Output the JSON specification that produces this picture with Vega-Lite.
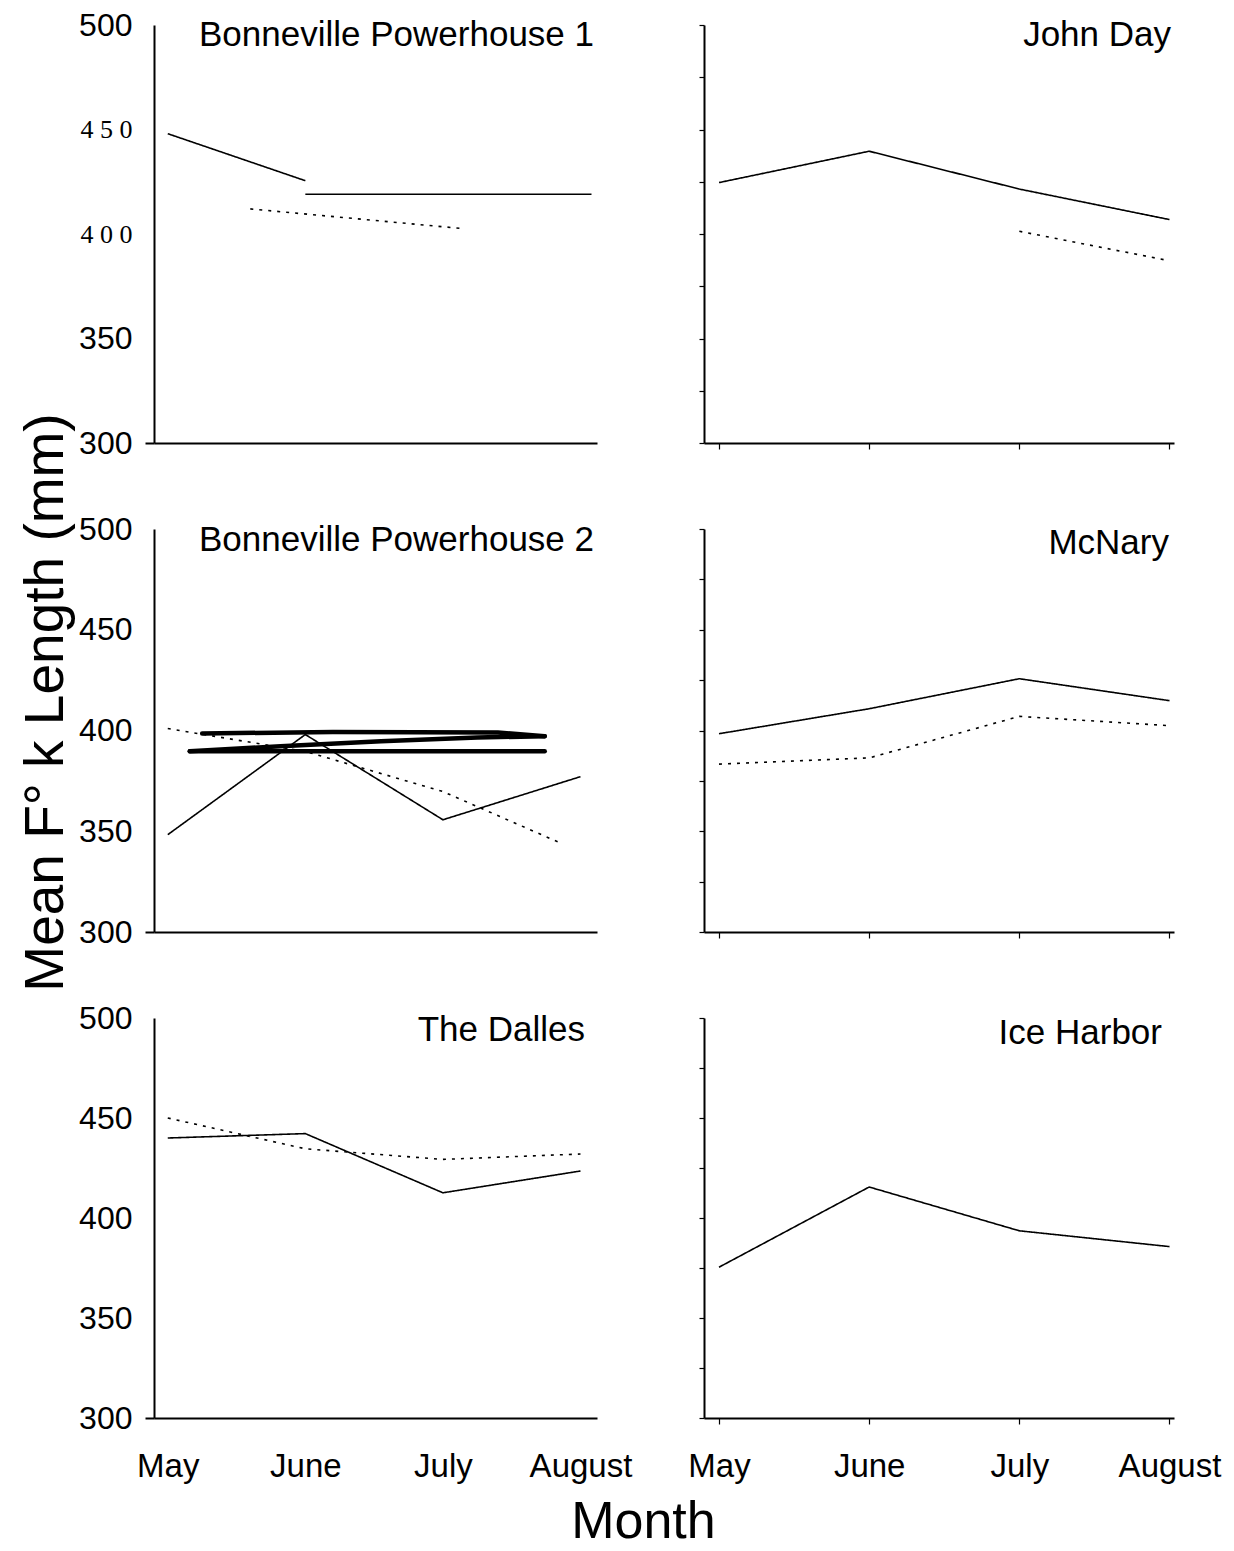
{
  "$schema": "https://vega.github.io/schema/vega-lite/v6.json",
  "background": "white",
  "padding": {"left": 17, "top": 9, "right": 4, "bottom": 4},
  "config": {
    "font": "Liberation Sans",
    "view": {"stroke": null},
    "axis": {"domainColor": "black", "domainWidth": 2, "tickColor": "black", "labelColor": "black", "labelFont": "Liberation Sans", "labelFontSize": 32, "grid": false, "titleFont": "Liberation Sans", "titleColor": "black", "titleFontWeight": "normal"},
    "title": {"font": "Liberation Sans", "fontWeight": "normal", "color": "black"},
    "text": {"font": "Liberation Sans", "fontSize": 35, "color": "black", "align": "right", "baseline": "top"}
  },
  "title": {"text": "Month", "orient": "bottom", "fontSize": 52, "anchor": "middle", "offset": 14, "dx": 24},
  "datasets": {
    "panels": [
      {"dam": "Bonneville Powerhouse 1"},
      {"dam": "John Day"},
      {"dam": "Bonneville Powerhouse 2"},
      {"dam": "McNary"},
      {"dam": "The Dalles"},
      {"dam": "Ice Harbor"}
    ],
    "fl": [
      {"dam": "Bonneville Powerhouse 1", "group": "A", "segment": "A1", "month": 1, "length": 448},
      {"dam": "Bonneville Powerhouse 1", "group": "A", "segment": "A1", "month": 2, "length": 425.5},
      {"dam": "Bonneville Powerhouse 1", "group": "A", "segment": "A2", "month": 2, "length": 419},
      {"dam": "Bonneville Powerhouse 1", "group": "A", "segment": "A2", "month": 4.08, "length": 419},
      {"dam": "Bonneville Powerhouse 1", "group": "B", "segment": "B1", "month": 1.6, "length": 412},
      {"dam": "Bonneville Powerhouse 1", "group": "B", "segment": "B1", "month": 3.16, "length": 402.5},

      {"dam": "John Day", "group": "A", "segment": "A1", "month": 1, "length": 424.6},
      {"dam": "John Day", "group": "A", "segment": "A1", "month": 2, "length": 439.6},
      {"dam": "John Day", "group": "A", "segment": "A1", "month": 3, "length": 421.5},
      {"dam": "John Day", "group": "A", "segment": "A1", "month": 4, "length": 406.9},
      {"dam": "John Day", "group": "B", "segment": "B1", "month": 3, "length": 401.3},
      {"dam": "John Day", "group": "B", "segment": "B1", "month": 4, "length": 387.2},

      {"dam": "Bonneville Powerhouse 2", "group": "A", "segment": "A1", "month": 1, "length": 348.3},
      {"dam": "Bonneville Powerhouse 2", "group": "A", "segment": "A1", "month": 2, "length": 398},
      {"dam": "Bonneville Powerhouse 2", "group": "A", "segment": "A1", "month": 3, "length": 355.7},
      {"dam": "Bonneville Powerhouse 2", "group": "A", "segment": "A1", "month": 4, "length": 377.1},
      {"dam": "Bonneville Powerhouse 2", "group": "B", "segment": "B1", "month": 1, "length": 401},
      {"dam": "Bonneville Powerhouse 2", "group": "B", "segment": "B1", "month": 2, "length": 389.6},
      {"dam": "Bonneville Powerhouse 2", "group": "B", "segment": "B1", "month": 3, "length": 369.7},
      {"dam": "Bonneville Powerhouse 2", "group": "B", "segment": "B1", "month": 3.85, "length": 344.3},
      {"dam": "Bonneville Powerhouse 2", "group": "C", "segment": "C1", "month": 1.25, "length": 398.5},
      {"dam": "Bonneville Powerhouse 2", "group": "C", "segment": "C1", "month": 2.2, "length": 399.3},
      {"dam": "Bonneville Powerhouse 2", "group": "C", "segment": "C1", "month": 3.4, "length": 399},
      {"dam": "Bonneville Powerhouse 2", "group": "C", "segment": "C1", "month": 3.74, "length": 397.2},
      {"dam": "Bonneville Powerhouse 2", "group": "C", "segment": "C2", "month": 3.74, "length": 397.2},
      {"dam": "Bonneville Powerhouse 2", "group": "C", "segment": "C2", "month": 3.25, "length": 396.5},
      {"dam": "Bonneville Powerhouse 2", "group": "C", "segment": "C2", "month": 2.55, "length": 394.7},
      {"dam": "Bonneville Powerhouse 2", "group": "C", "segment": "C2", "month": 1.82, "length": 392.2},
      {"dam": "Bonneville Powerhouse 2", "group": "C", "segment": "C2", "month": 1.16, "length": 389.7},
      {"dam": "Bonneville Powerhouse 2", "group": "C", "segment": "C3", "month": 1.16, "length": 389.7},
      {"dam": "Bonneville Powerhouse 2", "group": "C", "segment": "C3", "month": 3.74, "length": 389.7},

      {"dam": "McNary", "group": "A", "segment": "A1", "month": 1, "length": 398.4},
      {"dam": "McNary", "group": "A", "segment": "A1", "month": 2, "length": 410.8},
      {"dam": "McNary", "group": "A", "segment": "A1", "month": 3, "length": 425.7},
      {"dam": "McNary", "group": "A", "segment": "A1", "month": 4, "length": 414.8},
      {"dam": "McNary", "group": "B", "segment": "B1", "month": 1, "length": 383.3},
      {"dam": "McNary", "group": "B", "segment": "B1", "month": 2, "length": 386.4},
      {"dam": "McNary", "group": "B", "segment": "B1", "month": 3, "length": 407},
      {"dam": "McNary", "group": "B", "segment": "B1", "month": 4, "length": 402.4},

      {"dam": "The Dalles", "group": "A", "segment": "A1", "month": 1, "length": 440},
      {"dam": "The Dalles", "group": "A", "segment": "A1", "month": 2, "length": 442.2},
      {"dam": "The Dalles", "group": "A", "segment": "A1", "month": 3, "length": 412.6},
      {"dam": "The Dalles", "group": "A", "segment": "A1", "month": 4, "length": 423.5},
      {"dam": "The Dalles", "group": "B", "segment": "B1", "month": 1, "length": 450},
      {"dam": "The Dalles", "group": "B", "segment": "B1", "month": 2, "length": 434.6},
      {"dam": "The Dalles", "group": "B", "segment": "B1", "month": 3, "length": 429.3},
      {"dam": "The Dalles", "group": "B", "segment": "B1", "month": 4, "length": 432},

      {"dam": "Ice Harbor", "group": "A", "segment": "A1", "month": 1, "length": 375.4},
      {"dam": "Ice Harbor", "group": "A", "segment": "A1", "month": 2, "length": 415.5},
      {"dam": "Ice Harbor", "group": "A", "segment": "A1", "month": 3, "length": 393.6},
      {"dam": "Ice Harbor", "group": "A", "segment": "A1", "month": 4, "length": 385.7}
    ]
  },
  "columns": 2,
  "spacing": {"row": 86, "column": 107},
  "bounds": "flush",
  "align": "each",
  "concat": [
    {
      "width": 443, "height": 418,
      "layer": [
        {
          "data": {"name": "fl"},
          "transform": [{"filter": "datum.dam == 'Bonneville Powerhouse 1' && datum.group != 'C'"}],
          "mark": {"type": "line", "color": "black", "strokeWidth": 1.6},
          "encoding": {
            "x": {"field": "month", "type": "quantitative", "scale": {"domain": [0.9, 4.12], "nice": false, "zero": false}, "axis": {"values": [1, 2, 3, 4], "ticks": false, "labels": false, "title": null}},
            "y": {"field": "length", "type": "quantitative", "scale": {"domain": [300, 500], "nice": false, "zero": false}, "axis": {"values": [300, 350, 400, 450, 500], "title": null, "tickSize": 9, "tickWidth": 2, "tickColor": {"condition": {"test": "datum.value == 300", "value": "black"}, "value": "transparent"}, "labelPadding": 13, "labelExpr": "datum.value == 450 ? '4 5 0' : datum.value == 400 ? '4 0 0' : datum.label", "labelFont": {"condition": {"test": "datum.value == 450 || datum.value == 400", "value": "Liberation Serif"}, "value": "Liberation Sans"}, "labelFontSize": {"condition": {"test": "datum.value == 450 || datum.value == 400", "value": 26}, "value": 32}}},
            "detail": {"field": "segment", "type": "nominal"},
            "strokeDash": {"field": "group", "type": "nominal", "scale": {"domain": ["A", "B"], "range": [[1, 0], [3, 6]]}, "legend": null}
          }
        },
        {
          "data": {"name": "panels"},
          "transform": [{"filter": "datum.dam == 'Bonneville Powerhouse 1'"}],
          "mark": {"type": "text", "dx": -3, "dy": -7},
          "encoding": {"x": {"datum": 4.12}, "y": {"datum": 500}, "text": {"field": "dam"}}
        }
      ]
    },
    {
      "width": 470, "height": 418,
      "layer": [
        {
          "data": {"name": "fl"},
          "transform": [{"filter": "datum.dam == 'John Day'"}],
          "mark": {"type": "line", "color": "black", "strokeWidth": 1.6},
          "encoding": {
            "x": {"field": "month", "type": "quantitative", "scale": {"domain": [0.9, 4.03], "nice": false, "zero": false}, "axis": {"values": [1, 2, 3, 4], "ticks": true, "tickSize": 6, "tickWidth": 1.2, "labels": false, "title": null}},
            "y": {"field": "length", "type": "quantitative", "scale": {"domain": [300, 500], "nice": false, "zero": false}, "axis": {"values": [300, 325, 350, 375, 400, 425, 450, 475, 500], "labels": false, "tickSize": 5, "tickWidth": 1.2, "title": null}},
            "detail": {"field": "segment", "type": "nominal"},
            "strokeDash": {"field": "group", "type": "nominal", "scale": {"domain": ["A", "B"], "range": [[1, 0], [3, 6]]}, "legend": null}
          }
        },
        {
          "data": {"name": "panels"},
          "transform": [{"filter": "datum.dam == 'John Day'"}],
          "mark": {"type": "text", "dx": -3, "dy": -7},
          "encoding": {"x": {"datum": 4.03}, "y": {"datum": 500}, "text": {"field": "dam"}}
        }
      ]
    },
    {
      "width": 443, "height": 403,
      "layer": [
        {
          "data": {"name": "fl"},
          "transform": [{"filter": "datum.dam == 'Bonneville Powerhouse 2' && datum.group != 'C'"}],
          "mark": {"type": "line", "color": "black", "strokeWidth": 1.6},
          "encoding": {
            "x": {"field": "month", "type": "quantitative", "scale": {"domain": [0.9, 4.12], "nice": false, "zero": false}, "axis": {"values": [1, 2, 3, 4], "ticks": false, "labels": false, "title": null}},
            "y": {"field": "length", "type": "quantitative", "scale": {"domain": [300, 500], "nice": false, "zero": false}, "axis": {"values": [300, 350, 400, 450, 500], "title": "Mean F° k Length (mm)", "titleFontSize": 55, "titleAngle": 270, "titleX": -92, "titleY": 173, "titleBaseline": "alphabetic", "titleAlign": "center", "tickSize": 9, "tickWidth": 2, "tickColor": {"condition": {"test": "datum.value == 300", "value": "black"}, "value": "transparent"}, "labelPadding": 13}},
            "detail": {"field": "segment", "type": "nominal"},
            "strokeDash": {"field": "group", "type": "nominal", "scale": {"domain": ["A", "B"], "range": [[1, 0], [3, 6]]}, "legend": null}
          }
        },
        {
          "data": {"name": "fl"},
          "transform": [{"filter": "datum.dam == 'Bonneville Powerhouse 2' && datum.group == 'C'"}],
          "mark": {"type": "line", "color": "black", "strokeWidth": 4.5, "strokeCap": "round"},
          "encoding": {
            "x": {"field": "month", "type": "quantitative"},
            "y": {"field": "length", "type": "quantitative"},
            "detail": {"field": "segment", "type": "nominal"}
          }
        },
        {
          "data": {"name": "panels"},
          "transform": [{"filter": "datum.dam == 'Bonneville Powerhouse 2'"}],
          "mark": {"type": "text", "dx": -3, "dy": -6},
          "encoding": {"x": {"datum": 4.12}, "y": {"datum": 500}, "text": {"field": "dam"}}
        }
      ]
    },
    {
      "width": 470, "height": 403,
      "layer": [
        {
          "data": {"name": "fl"},
          "transform": [{"filter": "datum.dam == 'McNary'"}],
          "mark": {"type": "line", "color": "black", "strokeWidth": 1.6},
          "encoding": {
            "x": {"field": "month", "type": "quantitative", "scale": {"domain": [0.9, 4.03], "nice": false, "zero": false}, "axis": {"values": [1, 2, 3, 4], "ticks": true, "tickSize": 6, "tickWidth": 1.2, "labels": false, "title": null}},
            "y": {"field": "length", "type": "quantitative", "scale": {"domain": [300, 500], "nice": false, "zero": false}, "axis": {"values": [300, 325, 350, 375, 400, 425, 450, 475, 500], "labels": false, "tickSize": 5, "tickWidth": 1.2, "title": null}},
            "detail": {"field": "segment", "type": "nominal"},
            "strokeDash": {"field": "group", "type": "nominal", "scale": {"domain": ["A", "B"], "range": [[1, 0], [3, 6]]}, "legend": null}
          }
        },
        {
          "data": {"name": "panels"},
          "transform": [{"filter": "datum.dam == 'McNary'"}],
          "mark": {"type": "text", "dx": -5, "dy": -3},
          "encoding": {"x": {"datum": 4.03}, "y": {"datum": 500}, "text": {"field": "dam"}}
        }
      ]
    },
    {
      "width": 443, "height": 400,
      "layer": [
        {
          "data": {"name": "fl"},
          "transform": [{"filter": "datum.dam == 'The Dalles'"}],
          "mark": {"type": "line", "color": "black", "strokeWidth": 1.6},
          "encoding": {
            "x": {"field": "month", "type": "quantitative", "scale": {"domain": [0.9, 4.12], "nice": false, "zero": false}, "axis": {"values": [1, 2, 3, 4], "ticks": false, "labels": true, "labelPadding": 32, "labelFontSize": 33, "labelExpr": "['May','June','July','August'][datum.value - 1]", "title": null}},
            "y": {"field": "length", "type": "quantitative", "scale": {"domain": [300, 500], "nice": false, "zero": false}, "axis": {"values": [300, 350, 400, 450, 500], "title": null, "tickSize": 9, "tickWidth": 2, "tickColor": {"condition": {"test": "datum.value == 300", "value": "black"}, "value": "transparent"}, "labelPadding": 13}},
            "detail": {"field": "segment", "type": "nominal"},
            "strokeDash": {"field": "group", "type": "nominal", "scale": {"domain": ["A", "B"], "range": [[1, 0], [3, 6]]}, "legend": null}
          }
        },
        {
          "data": {"name": "panels"},
          "transform": [{"filter": "datum.dam == 'The Dalles'"}],
          "mark": {"type": "text", "dx": -12, "dy": -5},
          "encoding": {"x": {"datum": 4.12}, "y": {"datum": 500}, "text": {"field": "dam"}}
        }
      ]
    },
    {
      "width": 470, "height": 400,
      "layer": [
        {
          "data": {"name": "fl"},
          "transform": [{"filter": "datum.dam == 'Ice Harbor'"}],
          "mark": {"type": "line", "color": "black", "strokeWidth": 1.6},
          "encoding": {
            "x": {"field": "month", "type": "quantitative", "scale": {"domain": [0.9, 4.03], "nice": false, "zero": false}, "axis": {"values": [1, 2, 3, 4], "ticks": true, "tickSize": 6, "tickWidth": 1.2, "labels": true, "labelPadding": 26, "labelFontSize": 33, "labelExpr": "['May','June','July','August'][datum.value - 1]", "title": null}},
            "y": {"field": "length", "type": "quantitative", "scale": {"domain": [300, 500], "nice": false, "zero": false}, "axis": {"values": [300, 325, 350, 375, 400, 425, 450, 475, 500], "labels": false, "tickSize": 5, "tickWidth": 1.2, "title": null}},
            "detail": {"field": "segment", "type": "nominal"},
            "strokeDash": {"field": "group", "type": "nominal", "scale": {"domain": ["A", "B"], "range": [[1, 0], [3, 6]]}, "legend": null}
          }
        },
        {
          "data": {"name": "panels"},
          "transform": [{"filter": "datum.dam == 'Ice Harbor'"}],
          "mark": {"type": "text", "dx": -12, "dy": -2},
          "encoding": {"x": {"datum": 4.03}, "y": {"datum": 500}, "text": {"field": "dam"}}
        }
      ]
    }
  ]
}
